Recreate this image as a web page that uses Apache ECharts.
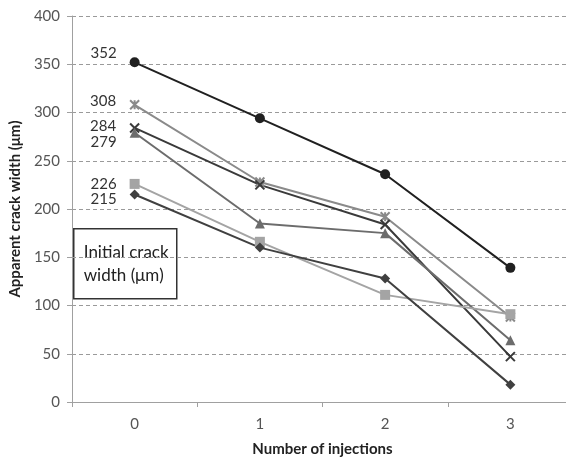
<!DOCTYPE html>
<html><head><meta charset="utf-8">
<script src="https://cdn.jsdelivr.net/npm/echarts@6/dist/echarts.min.js"></script>
<style>html,body{margin:0;padding:0;background:#fff}#c{width:566px;height:461px}</style>
</head><body><div id="c"></div>
<script>
const categories = ['0','1','2','3'];
const s352 = [352, 294, 236, 139];
const s308 = [308, 228, 192, 88];
const s284 = [284, 225, 184, 47];
const s279 = [279, 185, 175, 64];
const s226 = [226, 166, 111, 91];
const s215 = [215, 160, 128, 18];
const initialLabels = ['352','308','284','279','226','215'];
const yTicks = [0,50,100,150,200,250,300,350,400];

const FONT = 'Lato';
const asterisk = 'path://M0,0L10,10M10,0L0,10M5,0L5,10';
const cross = 'path://M0,0L10,10M10,0L0,10';
const chart = echarts.init(document.getElementById('c'));

function mk(data, color, symbol, size, lbl, dy, symStyle) {
  return {
    type: 'line', data: data, symbol: symbol, symbolSize: size,
    lineStyle: {color: color, width: 2},
    itemStyle: Object.assign({color: color}, symStyle || {}),
    emphasis: {disabled: true},
    label: {
      show: true, position: 'left', distance: 13, fontFamily: FONT, fontSize: 15, color: '#333',
      offset: [0, dy],
      formatter: p => p.dataIndex === 0 ? lbl : ''
    }
  };
}
const series = [
  mk(s352, '#202020', 'circle', 10, initialLabels[0], -9),
  mk(s308, '#8a8a8a', asterisk, 9, initialLabels[1], -4, {borderColor:'#8a8a8a', borderWidth:2}),
  mk(s284, '#3a3a3a', cross, 9, initialLabels[2], -2, {borderColor:'#3a3a3a', borderWidth:2}),
  mk(s279, '#6c6c6c', 'triangle', 10, initialLabels[3], 9),
  mk(s226, '#a4a4a4', 'rect', 10, initialLabels[4], 0),
  mk(s215, '#404040', 'diamond', 10, initialLabels[5], 5)
];

chart.setOption({
  animation: false,
  grid: {left: 72, top: 16, bottom: 59, right: -7, outerBoundsMode: 'none', containLabel: false},
  xAxis: {
    type: 'category', data: categories, boundaryGap: true,
    name: 'Number of injections', nameLocation: 'middle', nameGap: 40,
    nameTextStyle: {fontFamily: FONT, fontSize: 15, fontWeight: 'bold', color: '#222'},
    axisLine: {lineStyle: {color: '#a0a0a0', width: 1}},
    axisTick: {show: true, length: 5, lineStyle: {color: '#a0a0a0'}},
    axisLabel: {fontFamily: FONT, fontSize: 15, color: '#555', margin: 15},
    splitLine: {show: false}
  },
  yAxis: {
    type: 'value', min: 0, max: 400, interval: 50,
    name: 'Apparent crack width (μm)', nameLocation: 'middle', nameGap: 47, nameRotate: 90,
    nameTextStyle: {fontFamily: FONT, fontSize: 15, fontWeight: 'bold', color: '#222'},
    axisLine: {show: true, lineStyle: {color: '#a0a0a0', width: 1}},
    axisTick: {show: true, inside: false, length: 5, lineStyle: {color: '#a0a0a0'}},
    axisLabel: {fontFamily: FONT, fontSize: 15, color: '#555', margin: 12,
      formatter: v => yTicks.includes(v) ? String(v) : ''},
    splitLine: {show: true, lineStyle: {color: '#9a9a9a', type: [4, 3], width: 1}}
  },
  series: series,
  graphic: [{
    type: 'group', left: 73, top: 228,
    children: [
      {type: 'rect', shape: {x: 0, y: 0, width: 103, height: 70},
        style: {fill: '#fff', stroke: '#333', lineWidth: 1.5}},
      {type: 'text', x: 10, y: 12, style: {text: 'Initial crack\nwidth (μm)', fontFamily: FONT, fontSize: 17,
        fill: '#222', lineHeight: 23}}
    ]
  }]
});
</script></body></html>
